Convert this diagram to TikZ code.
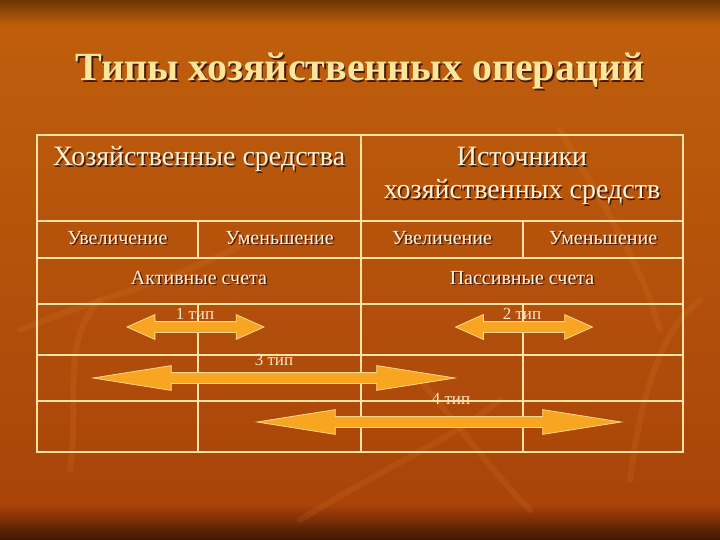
\documentclass[tikz,border=0pt]{standalone}
\usepackage{fontspec}
\setmainfont{Liberation Serif}
\usetikzlibrary{shapes.arrows}
\definecolor{bgtop}{RGB}{192,96,12}
\definecolor{bgbot}{RGB}{168,66,10}
\definecolor{bandtop}{RGB}{108,54,4}
\definecolor{bandbot}{RGB}{62,22,4}
\definecolor{leafc}{RGB}{235,150,60}
\definecolor{titlec}{RGB}{252,230,158}
\definecolor{cellc}{RGB}{255,242,215}
\definecolor{typc}{RGB}{250,232,195}
\definecolor{linec}{RGB}{255,228,165}
\definecolor{arrowc}{RGB}{248,166,34}
\definecolor{arrowe}{RGB}{255,214,140}
\definecolor{shadowc}{RGB}{70,26,6}
\newcommand{\shad}[1]{\leavevmode\rlap{\kern1.5pt\raisebox{-1.5pt}{\textcolor{shadowc}{#1}}}#1}

\begin{document}
\begin{tikzpicture}
[
    x=1pt, y=-1pt,
    grid/.style={draw=linec, line width=1.1pt},
    leaf/.style={draw=leafc, line width=6pt, opacity=0.12, line cap=round},
    titletext/.style={text=titlec, font=\fontsize{40}{46}\bfseries\selectfont},
    headtext/.style={text=cellc, font=\fontsize{28}{33}\selectfont, align=center, anchor=base},
    subtext/.style={text=cellc, font=\fontsize{20}{22}\selectfont, anchor=base},
    typtext/.style={text=typc, font=\fontsize{17}{19}\selectfont, anchor=base},
    dbl/.style={double arrow, fill=arrowc, draw=arrowe, line width=0.8pt,
        inner sep=5pt, minimum width=0pt, double arrow head extend=7pt},
]
\shade[top color=bgtop, bottom color=bgbot] (0,0) rectangle (720,540);
\shade[top color=bandtop, bottom color=bgtop] (0,0) rectangle (720,26);
\shade[top color=bgbot, bottom color=bandbot] (0,505) rectangle (720,540);
\useasboundingbox (0,0) rectangle (720,540);

% background leaves
\draw[leaf] (20,330) .. controls (90,300) and (180,280) .. (250,240);
\draw[leaf] (70,470) .. controls (80,400) and (60,340) .. (100,300);
\draw[leaf] (300,520) .. controls (380,470) and (450,440) .. (500,400);
\draw[leaf] (420,380) .. controls (470,440) and (500,480) .. (530,510);
\draw[leaf] (630,480) .. controls (640,400) and (660,330) .. (700,300);
\draw[leaf] (560,130) .. controls (600,200) and (640,260) .. (660,330);

\node[titletext] (title) at (360,72) {\shad{Типы хозяйственных операций}};

% table
\draw[grid, line width=1.6pt] (37,135) rectangle (683,452);
\foreach \y in {221,258,304,355,401}
    \draw[grid] (37,\y) -- (683,\y);
\draw[grid] (361,135) -- (361,452);
\foreach \x in {198,523} {
    \draw[grid] (\x,221) -- (\x,258);
    \draw[grid] (\x,304) -- (\x,452);
}

\node[headtext] (assets) at (199,166) {\shad{Хозяйственные средства}};
\node[headtext] (sources) at (522,199) {\shad{Источники}\\\shad{хозяйственных средств}};
\node[subtext] (inc1) at (117.5,244) {\shad{Увеличение}};
\node[subtext] (dec1) at (279.5,244) {\shad{Уменьшение}};
\node[subtext] (inc2) at (442,244) {\shad{Увеличение}};
\node[subtext] (dec2) at (603,244) {\shad{Уменьшение}};
\node[subtext] (active) at (199,284) {\shad{Активные счета}};
\node[subtext] (passive) at (522,284) {\shad{Пассивные счета}};

% types
\node[dbl, minimum height=137pt, double arrow tip angle=48] (t1) at (195.5,327) {};
\node[dbl, minimum height=137pt, double arrow tip angle=48] (t2) at (524,327) {};
\node[dbl, minimum height=362pt, double arrow tip angle=18] (t3) at (274,378) {};
\node[dbl, minimum height=364pt, double arrow tip angle=18] (t4) at (439,422) {};
\node[typtext] (l1) at (195,319) {1 тип};
\node[typtext] (l2) at (522,319) {2 тип};
\node[typtext] (l3) at (274,365) {3 тип};
\node[typtext] (l4) at (451,404) {4 тип};
\end{tikzpicture}
\end{document}
